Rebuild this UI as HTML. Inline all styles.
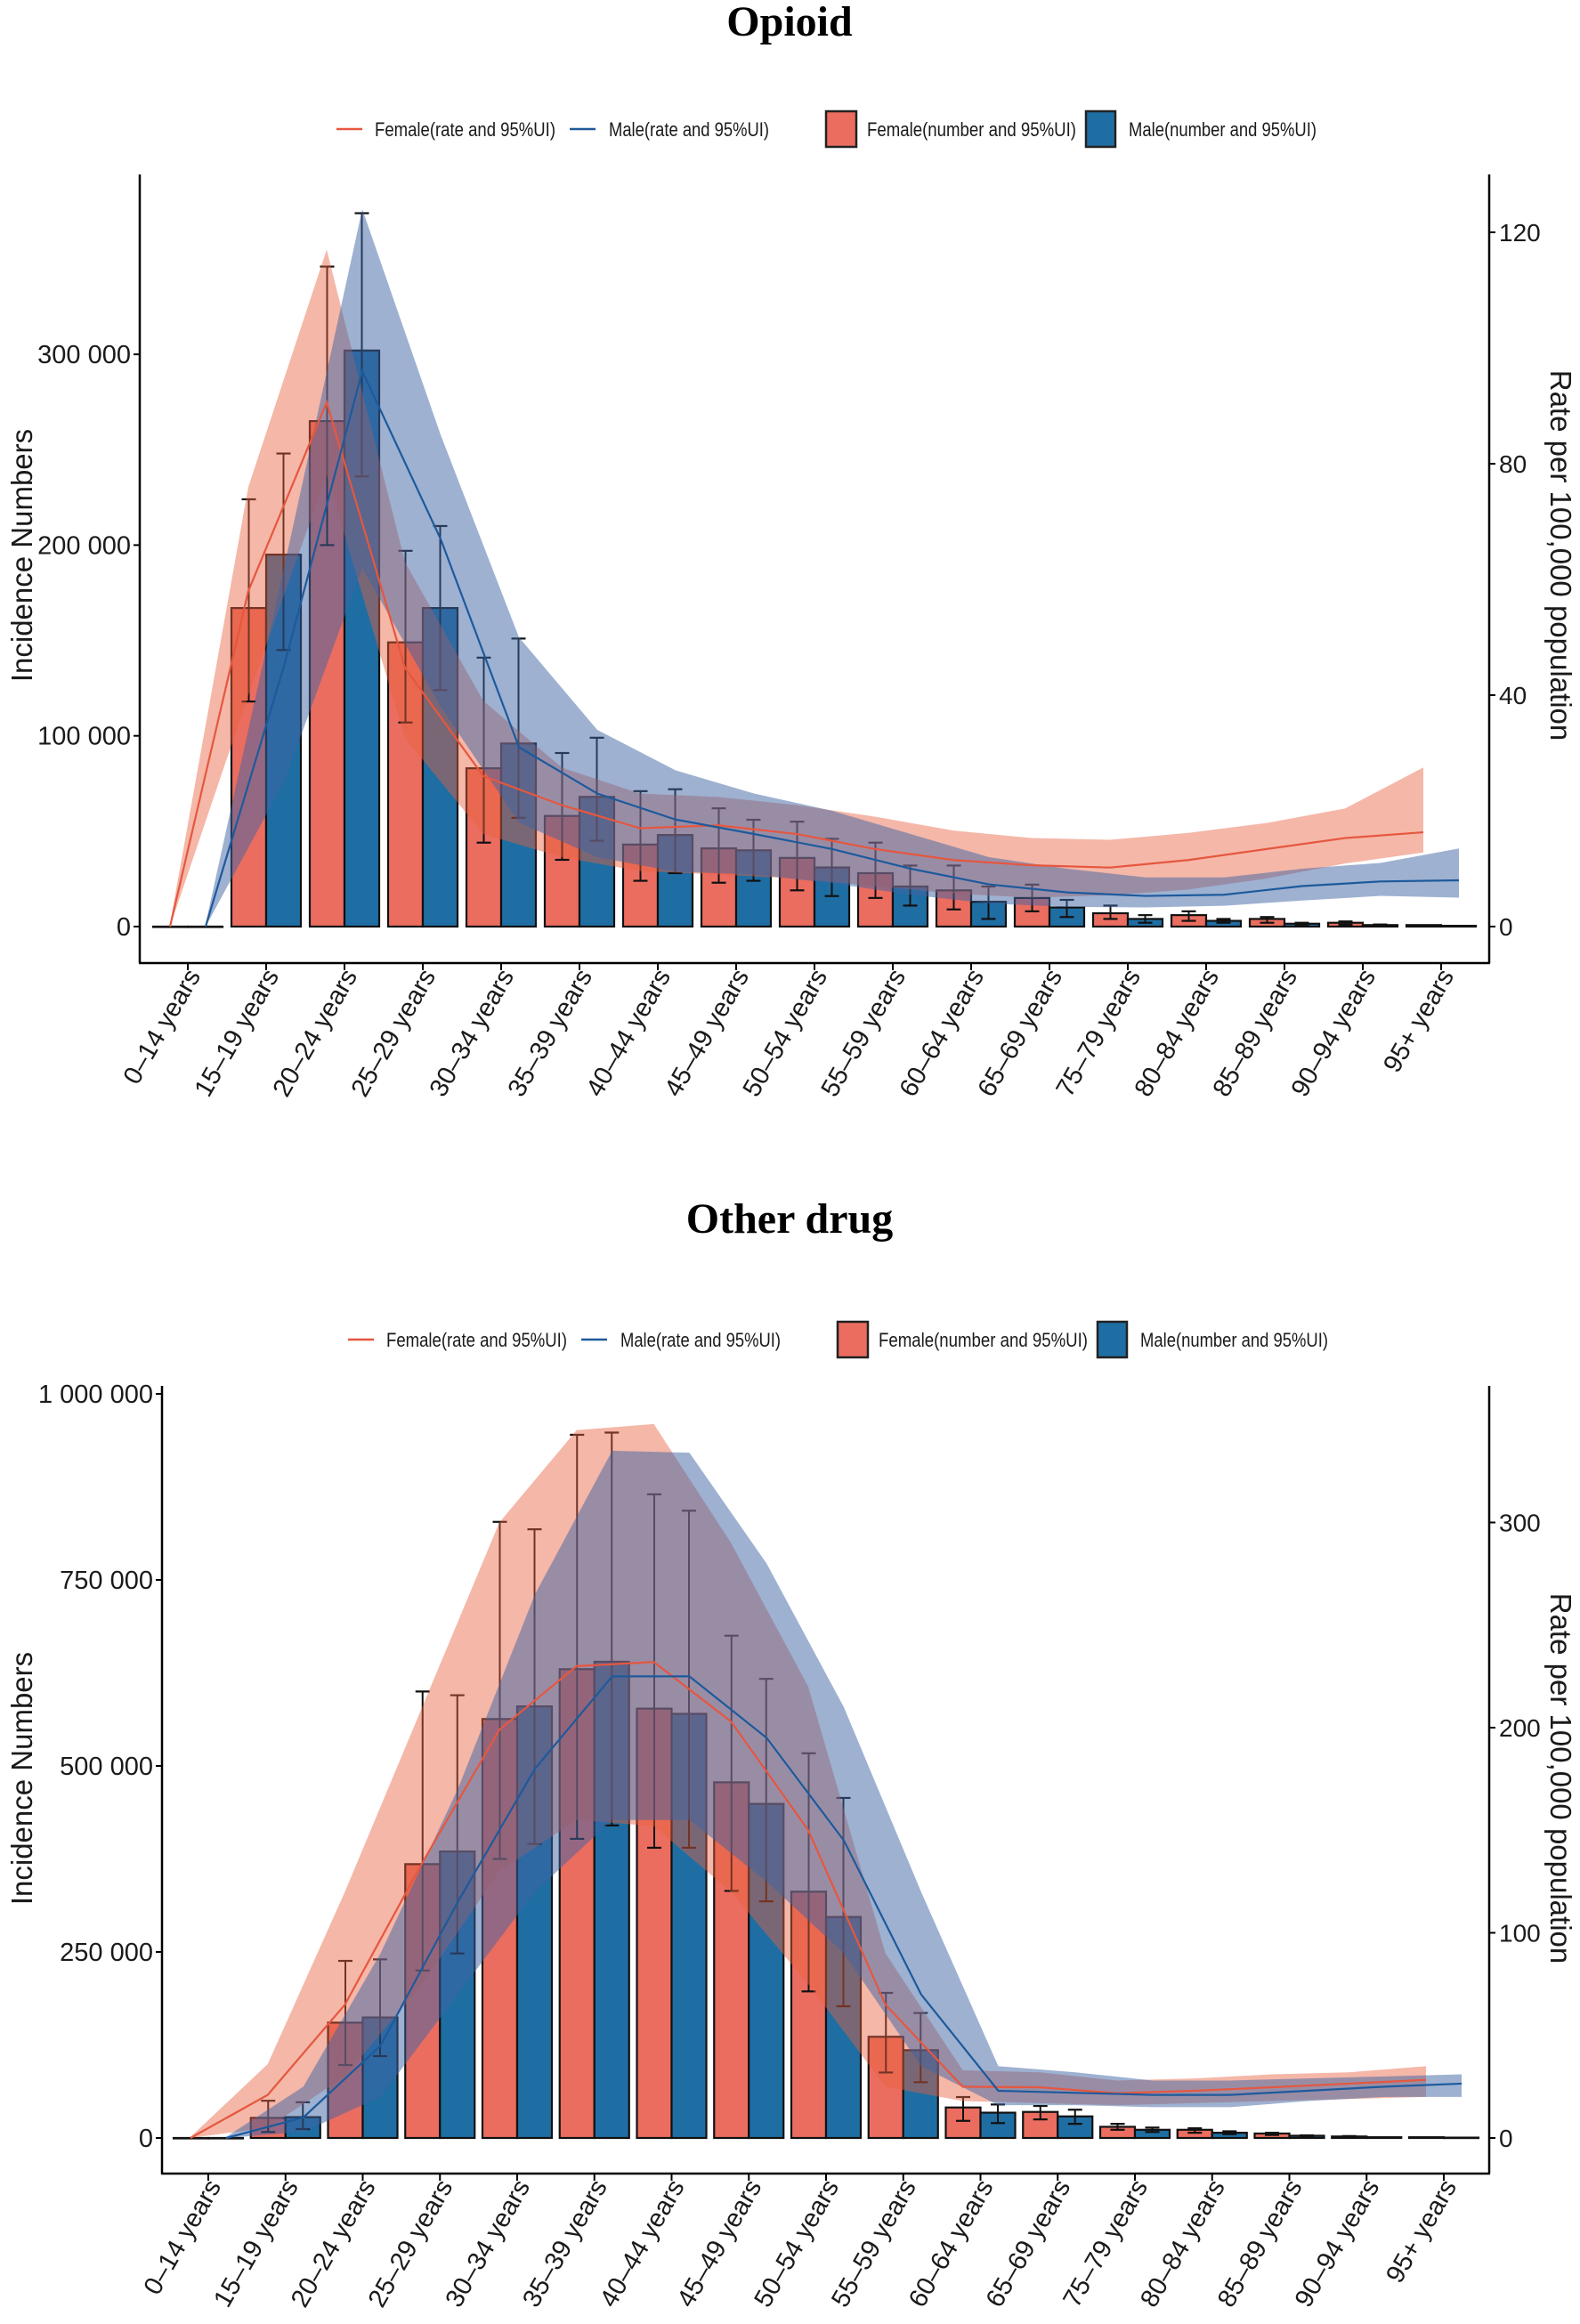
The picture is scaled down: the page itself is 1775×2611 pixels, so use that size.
<!DOCTYPE html>
<html><head><meta charset="utf-8">
<style>
html,body{margin:0;padding:0;background:#fff;}
svg{display:block;}
text{font-family:"Liberation Sans",Arial,sans-serif;fill:#1a1a1a;}
.title{font-family:"Liberation Serif","Times New Roman",serif;font-weight:bold;font-size:48px;fill:#000;}
</style></head>
<body>
<svg id="s" width="1775" height="2611" viewBox="0 0 1775 2611" xmlns="http://www.w3.org/2000/svg">
<text class="title" x="887" y="40" text-anchor="middle">Opioid</text>
<text class="title" x="887" y="1385" text-anchor="middle">Other drug</text>
</svg>
<script>
var NS="http://www.w3.org/2000/svg";
var svg=document.getElementById('s');
function el(t,a,txt){var e=document.createElementNS(NS,t);for(var k in a)e.setAttribute(k,a[k]);if(txt!==undefined)e.textContent=txt;svg.appendChild(e);return e;}
var cats=["0–14 years","15–19 years","20–24 years","25–29 years","30–34 years","35–39 years","40–44 years","45–49 years","50–54 years","55–59 years","60–64 years","65–69 years","75–79 years","80–84 years","85–89 years","90–94 years","95+ years"];
var FB="#EB6D60",MB="#1F6EA3",FL="#E5573F",ML="#1D5A9C";

function legend(dx,y){
  el('line',{x1:378+dx,y1:y,x2:407+dx,y2:y,stroke:FL,'stroke-width':2.5});
  el('text',{x:421+dx,y:y+8,'font-size':22,textLength:203,lengthAdjust:'spacingAndGlyphs'},"Female(rate and 95%UI)");
  el('line',{x1:640+dx,y1:y,x2:669+dx,y2:y,stroke:ML,'stroke-width':2.5});
  el('text',{x:684+dx,y:y+8,'font-size':22,textLength:180,lengthAdjust:'spacingAndGlyphs'},"Male(rate and 95%UI)");
  el('rect',{x:928+dx,y:y-20,width:34,height:40,fill:FB,stroke:'#222','stroke-width':2.5});
  el('text',{x:974+dx,y:y+8,'font-size':22,textLength:235,lengthAdjust:'spacingAndGlyphs'},"Female(number and 95%UI)");
  el('rect',{x:1220+dx,y:y-20,width:33,height:40,fill:MB,stroke:'#222','stroke-width':2.5});
  el('text',{x:1268+dx,y:y+8,'font-size':22,textLength:211,lengthAdjust:'spacingAndGlyphs'},"Male(number and 95%UI)");
}

function chart(o){
  var X=function(i){return o.x0+i*o.dx;};
  var yN=function(v){return o.y0-v*o.kN;};
  var yR=function(v){return o.y0-v*o.kR;};
  for(var i=0;i<17;i++){
    var f=o.bars[i][0],m=o.bars[i][2];
    el('rect',{x:X(i)-39,y:yN(f),width:39,height:Math.max(yN(0)-yN(f),0.5),fill:FB,stroke:'#111','stroke-width':2.2});
    el('rect',{x:X(i),y:yN(m),width:39,height:Math.max(yN(0)-yN(m),0.5),fill:MB,stroke:'#111','stroke-width':2.2});
  }
  for(var i=0;i<17;i++){
    [[X(i)-19.5,o.bars[i][1]],[X(i)+19.5,o.bars[i][3]]].forEach(function(p){
      if(!p[1])return;
      var a=yN(p[1][0]),b=yN(p[1][1]);
      el('line',{x1:p[0],y1:a,x2:p[0],y2:b,stroke:'#111','stroke-width':2});
      el('line',{x1:p[0]-8,y1:a,x2:p[0]+8,y2:a,stroke:'#111','stroke-width':2.2});
      el('line',{x1:p[0]-8,y1:b,x2:p[0]+8,y2:b,stroke:'#111','stroke-width':2.2});
    });
  }
  function band(data,off,fill,op){
    var up=[],lo=[];
    for(var i=0;i<17;i++){var x=X(i)+off;up.push(x+','+yR(data[i][2]));lo.unshift(x+','+yR(data[i][1]));}
    el('polygon',{points:up.concat(lo).join(' '),fill:fill,'fill-opacity':op,stroke:'none'});
  }
  band(o.fr,-20,"#E8603F",0.45);
  band(o.mr,20,"#3D63A3",0.5);
  function line(data,off,c){
    var p=[];for(var i=0;i<17;i++)p.push((X(i)+off)+','+yR(data[i][0]));
    el('polyline',{points:p.join(' '),fill:'none',stroke:c,'stroke-width':2.2});
  }
  line(o.fr,-20,FL);line(o.mr,20,ML);
  el('line',{x1:o.xl,y1:o.top,x2:o.xl,y2:o.bot,stroke:'#000','stroke-width':2.5});
  el('line',{x1:1673,y1:o.top,x2:1673,y2:o.bot,stroke:'#000','stroke-width':2.5});
  el('line',{x1:o.xl-1,y1:o.bot,x2:1674,y2:o.bot,stroke:'#000','stroke-width':2.5});
  o.lt.forEach(function(t){var y=yN(t[0]);
    el('line',{x1:o.xl-7,y1:y,x2:o.xl,y2:y,stroke:'#000','stroke-width':2});
    el('text',{x:o.xl-10,y:y+10,'font-size':29,'text-anchor':'end'},t[1]);});
  o.rt.forEach(function(t){var y=yR(t);
    el('line',{x1:1673,y1:y,x2:1680,y2:y,stroke:'#000','stroke-width':2});
    el('text',{x:1684,y:y+10,'font-size':28},String(t));});
  for(var i=0;i<17;i++){
    el('line',{x1:X(i),y1:o.bot,x2:X(i),y2:o.bot+8,stroke:'#000','stroke-width':2});
    var tx=X(i)+15,ty=o.bot+14;
    el('text',{x:tx,y:ty,'font-size':29,'text-anchor':'end',transform:'rotate(-60 '+tx+' '+ty+')'},cats[i]);
  }
  el('text',{x:0,y:0,'font-size':33,'text-anchor':'middle',transform:'translate(36 '+o.ymid+') rotate(-90)'},"Incidence Numbers");
  el('text',{x:0,y:0,'font-size':33,'text-anchor':'middle',transform:'translate(1742 '+o.ymid+') rotate(90)'},"Rate per 100,000 population");
}

function b(f,fe,m,me){return [f*1000,fe?[fe[0]*1000,fe[1]*1000]:null,m*1000,me?[me[0]*1000,me[1]*1000]:null];}

legend(0,145);
chart({x0:211,dx:88,y0:1041,kN:0.002143,kR:6.5,xl:157,top:196,bot:1082,ymid:624,
 lt:[[0,"0"],[100000,"100 000"],[200000,"200 000"],[300000,"300 000"]],rt:[0,40,80,120],
 bars:[b(0,null,0,null),b(167,[118,224],195,[145,248]),b(265,[200,346],302,[236,374]),b(149,[107,197],167,[124,210]),
  b(83,[44,141],96,[57,151]),b(58,[35,91],68,[45,99]),b(43,[24,71],48,[28,72]),b(41,[23,62],40,[24,56]),
  b(36,[19,55],31,[16,46]),b(28,[15,44],21,[11,32]),b(19,[9,32],13,[4,21]),b(15,[8,22],10,[5,14]),
  b(7,[4,11],4,[2,6]),b(6,[3,8],3,[2,4]),b(4,[2,5],1.5,[1,2]),b(2,[1,2.7],0.8,[0.5,1.1]),b(0.8,null,0.4,null)],
 fr:[[0,0,0.5],[58,40,76],[90.6,78,117],[44.7,32.6,63],[26,16,39],[21,12,27.5],[17,9.6,23],[17.5,9,22.4],[16,8.3,21],[13.4,7,19],[11.5,5.7,16.6],[10.6,5,15.3],[10.2,5.4,15],[11.5,6.4,16.2],[13.4,8.3,17.9],[15.3,10.9,20.4],[16.3,12.8,27.5]],
 mr:[[0,0,0.5],[45,25,62],[96,62,124],[67,38,85],[31,18,50],[23,12,34],[18.5,9.5,27],[16,9,23],[13.4,7.5,20],[10,5.5,16],[7.3,4,12],[5.9,3.4,10],[5.3,3.3,8.5],[5.5,3.6,8.5],[7,4.5,10],[7.8,5.3,11],[8,5,13.5]]
});

legend(13,1505);
chart({x0:234,dx:86.75,y0:2402,kN:0.000836,kR:2.305,xl:182,top:1557,bot:2442,ymid:1998,
 lt:[[0,"0"],[250000,"250 000"],[500000,"500 000"],[750000,"750 000"],[1000000,"1 000 000"]],rt:[0,100,200,300],
 bars:[b(0,null,0,null),b(27,[8,50],28,[12,48]),b(155,[98,238],162,[110,240]),b(368,[225,600],385,[248,595]),
  b(563,[375,828],580,[395,818]),b(630,[402,945],640,[420,948]),b(577,[390,865],570,[390,843]),b(478,[332,675],449,[318,617]),
  b(331,[197,517],297,[177,457]),b(136,[88,195],118,[75,168]),b(41,[23,55],34,[20,45]),b(35,[25,43],29,[19,38]),
  b(15,[11,19],11,[8,14]),b(11,[7,13],7,[5,9]),b(6,[4,7],3,[2.5,3.5]),b(2,[1.5,2.5],1,null),b(1,null,0.5,null)],
 fr:[[0,0,0.5],[21,5,36],[65,30,120],[134,75,210],[199,130,300],[230,155,345],[232,152,348],[203,120,290],[150,75,220],[65,25,90],[25,18,33],[24.7,17,32],[21.8,16,28],[23,17,29],[24.7,18,31],[26.5,19,32],[28.3,20,35]],
 mr:[[0,0,0.5],[10,3,25],[45,20,90],[115,70,170],[180,120,265],[225,155,335],[225,155,334],[195,125,280],[145,90,210],[70,35,120],[23,16,35],[22,16,32],[21,15,28],[21,15,28],[23,18,29],[25,20,30],[26.5,20,31]]
});
</script>
</body></html>
